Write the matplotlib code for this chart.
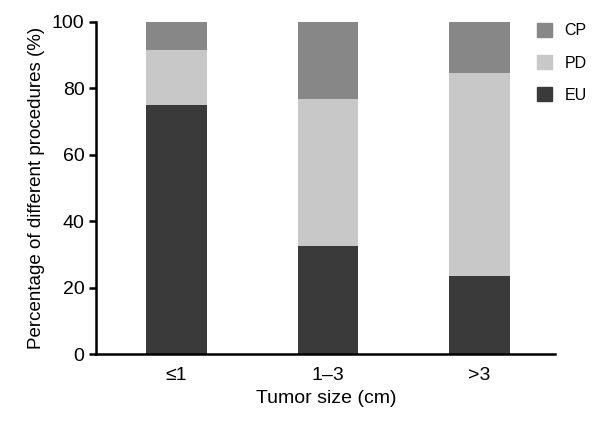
import matplotlib
matplotlib.use('Agg')
import matplotlib.pyplot as plt
from matplotlib.patches import Patch

plt.rcParams['font.family'] = ['Liberation Sans', 'DejaVu Sans']

# ==================== DATA ====================
sizes = ['≤1', '1–3', '>3']
eu = [75.0, 32.5, 23.5]
pd_ = [16.5, 44.3, 61.0]
cp = [8.5, 23.2, 15.5]

colors = {'EU': '#3a3a3a', 'PD': '#c8c8c8', 'CP': '#878787'}

# ==================== PLOT ====================
fig = plt.figure(figsize=(6.09, 4.25), dpi=100)
ax = fig.add_axes([0.158, 0.167, 0.754, 0.782])

x = list(range(len(sizes)))
w = 0.4
ax.bar(x, eu, width=w, color=colors['EU'])
ax.bar(x, pd_, width=w, bottom=eu, color=colors['PD'])
bottom2 = [a + b for a, b in zip(eu, pd_)]
ax.bar(x, cp, width=w, bottom=bottom2, color=colors['CP'])

ax.set_xlim(-0.53, 2.5)
ax.set_ylim(0, 100)
ax.set_xticks(x)
ax.set_xticklabels(sizes)
ax.set_yticks([0, 20, 40, 60, 80, 100])
ax.tick_params(axis='x', length=0, labelsize=14, pad=9)
ax.tick_params(axis='y', length=5, width=1.8, labelsize=14)

for side in ['top', 'right']:
    ax.spines[side].set_visible(False)
for side in ['left', 'bottom']:
    ax.spines[side].set_linewidth(1.8)

ax.set_xlabel('Tumor size (cm)', fontsize=14, labelpad=5)
ax.set_ylabel('Percentage of different procedures (%)', fontsize=13.5, labelpad=5)

handles = [Patch(color=colors[k]) for k in ['CP', 'PD', 'EU']]
fig.legend(handles, ['CP', 'PD', 'EU'], loc='upper left',
           bbox_to_anchor=(0.863, 0.972), frameon=False, fontsize=11.5,
           handlelength=0.95, handleheight=0.95, labelspacing=1.05,
           handletextpad=0.8, borderaxespad=0.3)

fig.savefig('out.png', dpi=100)
